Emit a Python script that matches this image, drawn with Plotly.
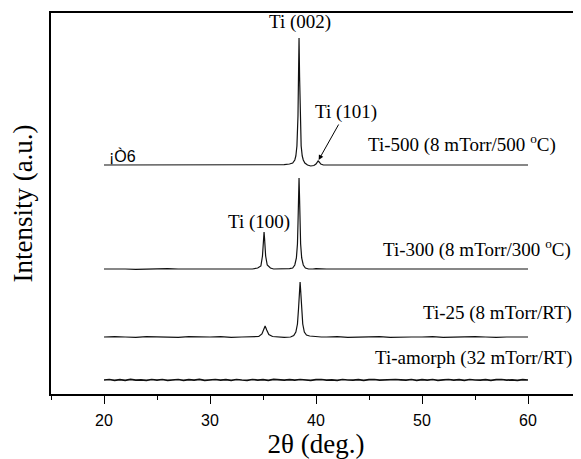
import plotly.graph_objects as go

# ---------------- data ----------------
x_ti500 = [20, 21, 22, 23, 24, 25, 26, 27, 28, 29, 30, 31, 32, 33, 34, 35, 36, 37, 37.5, 37.8,
           38.0, 38.1, 38.2, 38.25, 38.3, 38.35, 38.4, 38.45, 38.5, 38.55, 38.6, 38.7, 38.8, 38.95,
           39.2, 39.5, 39.8, 40.0, 40.1, 40.2, 40.3, 40.45, 40.7, 41, 42, 43, 44, 45, 46, 47, 48, 49,
           50, 51, 52, 53, 54, 55, 56, 57, 58, 59, 60]
y_ti500 = [229, 229, 229.3, 229, 229, 228.7, 229, 229.3, 229, 229, 229, 229.3, 229, 229, 228.7, 229, 229, 229.3, 230, 231,
           234, 238, 248, 258, 278, 318, 356, 318, 278, 258, 248, 238, 234, 231,
           229, 228, 228.5, 230, 232, 233, 232, 230, 229, 229, 229.3, 229, 229, 228.7, 229, 229, 229.3, 229,
           229, 229, 228.7, 229, 229.3, 229, 229, 229, 229.3, 229, 229]

x_ti300 = [20, 21, 22, 23, 24, 25, 26, 27, 28, 29, 30, 31, 32, 33, 34, 34.5, 34.8, 34.95, 35.05,
           35.1, 35.15, 35.25, 35.4, 35.7, 36, 36.5, 37, 37.5, 37.8, 38.0, 38.15, 38.25, 38.3,
           38.35, 38.4, 38.45, 38.5, 38.55, 38.65, 38.8, 39.0, 39.3, 39.7, 40, 41, 42, 43, 44, 45,
           46, 47, 48, 49, 50, 51, 52, 53, 54, 55, 56, 57, 58, 59, 60]
y_ti300 = [125, 125.3, 125, 124.7, 125, 125, 125.3, 125, 125, 124.7, 125, 125, 125.3, 125, 125, 126, 128, 138, 155,
           162, 155, 138, 129, 126, 125, 125, 125, 125.3, 126, 129, 136, 150, 170,
           195, 216, 195, 170, 150, 136, 129, 126, 125, 125, 125.3, 125, 125, 124.7, 125, 125.3,
           125, 125, 124.7, 125, 125, 125.3, 125, 125, 125, 124.7, 125, 125.3, 125, 125, 125]

x_ti25 = [20, 21, 22, 23, 24, 25, 26, 27, 28, 29, 30, 31, 32, 33, 34, 34.6, 34.9, 35.05,
          35.2, 35.35, 35.55, 35.9, 36.3, 37, 37.6, 37.9, 38.1, 38.25, 38.35, 38.45, 38.5,
          38.55, 38.65, 38.75, 38.9, 39.1, 39.4, 39.8, 40.5, 41, 42, 43, 44, 45, 46, 47, 48,
          49, 50, 51, 52, 53, 54, 55, 56, 57, 58, 59, 60]
y_ti25 = [57, 57.4, 57, 56.6, 57.4, 57, 57, 56.6, 57.4, 57, 57, 57.4, 56.6, 57, 57, 57.5, 60, 65,
          68, 64, 59.5, 57.5, 57, 56.6, 57, 58.5, 62, 70, 85, 104, 112,
          104, 85, 70, 62, 59, 58, 57.5, 57, 57, 57.4, 56.6, 57, 57, 57.4, 56.6, 57, 57,
          57, 57.4, 56.6, 57, 57, 57.4, 57, 56.6, 57, 57, 57]

x_amorph = [20, 20.5, 21, 21.5, 22, 22.5, 23, 23.5, 24, 24.5, 25, 25.5, 26, 26.5, 27, 27.5, 28, 28.5,
            29, 29.5, 30, 30.5, 31, 31.5, 32, 32.5, 33, 33.5, 34, 34.5, 35, 35.5, 36, 36.5, 37, 37.5,
            38, 38.5, 39, 39.5, 40, 40.5, 41, 41.5, 42, 42.5, 43, 43.5, 44, 44.5, 45, 45.5, 46, 46.5,
            47, 47.5, 48, 48.5, 49, 49.5, 50, 50.5, 51, 51.5, 52, 52.5, 53, 53.5, 54, 54.5, 55, 55.5,
            56, 56.5, 57, 57.5, 58, 58.5, 59, 59.5, 60]
y_amorph = [14, 14.5, 13.7, 14.4, 13.6, 14.6, 13.8, 14.2, 13.6, 14.5, 13.9, 14.5, 13.7, 14.1, 14.5, 13.7, 14.4, 13.8,
            14.6, 13.7, 14.2, 14.5, 13.8, 14.3, 13.7, 14.5, 14.0, 13.7, 14.5, 13.8, 14.4, 13.7, 14.6, 14.0, 13.8, 14.4,
            13.8, 14.5, 14.1, 13.7, 14.4, 14.5, 13.8, 14.2, 13.7, 14.5, 14.0, 13.8, 14.4, 13.7, 14.3, 14.5, 13.8, 14.1,
            13.7, 14.5, 14.2, 13.8, 14.5, 13.7, 14.3, 13.9, 14.5, 13.7, 14.2, 14.5, 13.8, 14.4, 13.7, 14.5, 14.0, 13.8,
            14.4, 13.7, 14.3, 14.5, 13.9, 14.2, 13.7, 14.4, 14.0]

x_ticks = [20, 30, 40, 50, 60]
x_tick_labels = ["20", "30", "40", "50", "60"]

series = [
    ("Ti-500", x_ti500, y_ti500, 1.2),
    ("Ti-300", x_ti300, y_ti300, 1.2),
    ("Ti-25", x_ti25, y_ti25, 1.2),
    ("Ti-amorph", x_amorph, y_amorph, 1.7),
]

# ---------------- figure ----------------
fig = go.Figure()
for name, xs, ys, w in series:
    fig.add_trace(go.Scatter(x=xs, y=ys, mode="lines", name=name,
                             line=dict(color="#111111", width=w), showlegend=False))

serif = "Liberation Serif, Times New Roman, serif"
lab = dict(family=serif, size=19, color="#000000")

annotations = [
    dict(x=38.5, y=372, text="Ti (002)", showarrow=False, xanchor="center", yanchor="middle", font=lab),
    dict(x=40.25, y=234, text="Ti (101)", showarrow=True, ax=27, ay=-48, arrowhead=2, arrowsize=1,
         arrowwidth=1, arrowcolor="#000000", font=lab),
    dict(x=34.62, y=172, text="Ti (100)", showarrow=False, xanchor="center", yanchor="middle", font=lab),
    dict(x=62.83, y=251, text="Ti-500 (8 mTorr/500 <sup>o</sup>C)", showarrow=False, xanchor="right",
         yanchor="middle", font=lab),
    dict(x=64.25, y=146, text="Ti-300 (8 mTorr/300 <sup>o</sup>C)", showarrow=False, xanchor="right",
         yanchor="middle", font=lab),
    dict(x=64.34, y=81, text="Ti-25 (8 mTorr/RT)", showarrow=False, xanchor="right",
         yanchor="middle", font=lab),
    dict(x=64.34, y=36, text="Ti-amorph (32 mTorr/RT)", showarrow=False, xanchor="right",
         yanchor="middle", font=lab),
    dict(x=21.7, y=238, text="¡Ò6", showarrow=False, xanchor="center", yanchor="middle",
         font=dict(family="Liberation Sans, Arial, sans-serif", size=16, color="#000000")),
]

# the page body adds an 8 px offset, so the figure is 8 px smaller and margins shifted
fig.update_layout(
    width=573, height=451,
    margin=dict(l=43, r=0, t=5, b=65, autoexpand=False),
    paper_bgcolor="white", plot_bgcolor="white",
    annotations=annotations,
    xaxis=dict(
        range=[15, 65], tickvals=x_ticks, ticktext=x_tick_labels, automargin=False,
        ticks="outside", ticklen=8, tickwidth=1.3, tickcolor="#000000",
        minor=dict(dtick=5, tick0=0, ticks="outside", ticklen=4, tickwidth=1.3, tickcolor="#000000"),
        showline=True, linecolor="#000000", linewidth=1.5, mirror=True,
        showgrid=False, zeroline=False, ticklabelstandoff=3,
        tickfont=dict(family="Liberation Sans, Arial, sans-serif", size=16, color="#000000"),
        title=dict(text="2θ (deg.)", font=dict(family=serif, size=27, color="#000000"), standoff=8),
    ),
    yaxis=dict(
        range=[0, 381], showticklabels=False, ticks="", automargin=False,
        showline=True, linecolor="#000000", linewidth=1.5,
        showgrid=False, zeroline=False,
        title=dict(text="Intensity (a.u.)", font=dict(family=serif, size=27, color="#000000"), standoff=12),
    ),
)

fig.write_html("out.html")
